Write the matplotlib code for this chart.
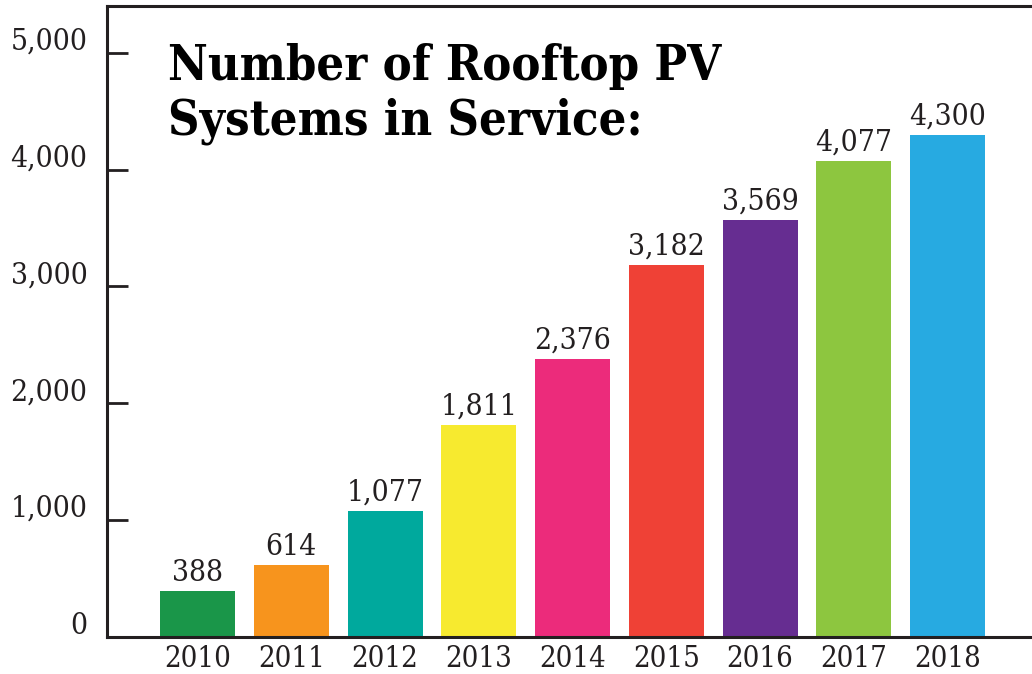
import matplotlib
matplotlib.use("Agg")
import matplotlib.pyplot as plt
import matplotlib.transforms as mtransforms

years = ["2010", "2011", "2012", "2013", "2014", "2015", "2016", "2017", "2018"]
systems = [388, 614, 1077, 1811, 2376, 3182, 3569, 4077, 4300]
value_labels = ["388", "614", "1,077", "1,811", "2,376", "3,182", "3,569", "4,077", "4,300"]
colors = ["#1a9649", "#f7941d", "#00a99d", "#f7ea2f", "#ec2b7b",
          "#ef4136", "#662d91", "#8dc63f", "#27aae1"]
yticks = [0, 1000, 2000, 3000, 4000, 5000]
ytick_labels = ["0", "1,000", "2,000", "3,000", "4,000", "5,000"]
title = "Number of Rooftop PV\nSystems in Service:"

ink = "#231f20"
serif = ["DejaVu Serif"]

fig = plt.figure(figsize=(10.32, 6.74), dpi=100)
ax = fig.add_axes([0.1037, 0.0553, 0.8963, 0.9357])

x = list(range(len(years)))
bars = ax.bar(x, systems, width=0.8, color=colors)
ax.set_xlim(-0.965, 8.90)
ax.set_ylim(0, 5400)

for xi, v, lab in zip(x, systems, value_labels):
    ax.annotate(lab, (xi, v), xytext=(0, 3), textcoords="offset points",
                ha="center", va="bottom", fontsize=21.5, color=ink,
                family=serif, fontstretch="condensed")

ax.set_xticks(x)
ax.set_xticklabels(years, fontsize=21, color=ink, family=serif, fontstretch="condensed")
ax.tick_params(axis="x", length=0, pad=6)

ax.set_yticks(yticks)
ax.set_yticklabels(ytick_labels, fontsize=21.5, color=ink, family=serif, fontstretch="condensed")
ax.tick_params(axis="y", direction="in", length=15, width=2, color=ink, pad=14)
offset = mtransforms.ScaledTranslation(0, 14 / 100, fig.dpi_scale_trans)
for lbl in ax.get_yticklabels():
    lbl.set_transform(lbl.get_transform() + offset)

for side in ["left", "bottom", "top"]:
    ax.spines[side].set_linewidth(2.2)
    ax.spines[side].set_color(ink)
ax.spines["right"].set_visible(False)

ax.text(0.066, 0.942, title, transform=ax.transAxes, ha="left", va="top",
        fontsize=35, fontweight="bold", color="black", family=serif,
        fontstretch="condensed", linespacing=1.22)

fig.savefig("out.png", dpi=100)
